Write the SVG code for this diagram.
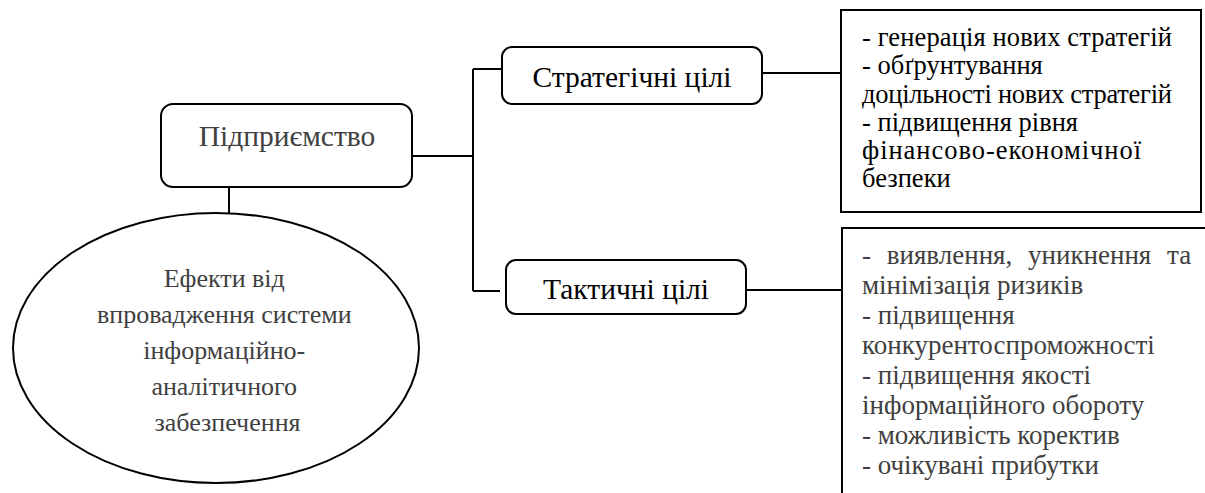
<svg xmlns="http://www.w3.org/2000/svg" width="1205" height="493" viewBox="0 0 1205 493">
<style>
.box{fill:#fff;stroke:#000;stroke-width:2}
.ln{fill:none;stroke:#000;stroke-width:2}
text{font-family:'Liberation Serif','Times New Roman',serif;font-size:26px}
.node{font-size:29.5px}
.top{font-size:26.5px}
.bot{font-size:27px}
.g{fill:#404040}
.k{fill:#000}
</style>
<rect width="1205" height="493" fill="#fff"/>
<g id="connectors">
<line class="ln" x1="412" y1="156" x2="473" y2="156"/>
<line class="ln" x1="473" y1="69" x2="473" y2="291"/>
<line class="ln" x1="473" y1="69" x2="502" y2="69"/>
<line class="ln" x1="473" y1="291" x2="500" y2="291"/>
<line class="ln" x1="762" y1="73" x2="841" y2="73"/>
<line class="ln" x1="746" y1="290" x2="842" y2="290"/>
<line class="ln" x1="229" y1="186" x2="229" y2="213"/>
</g>
<g id="enterprise">
<rect class="box" x="161" y="104" width="251" height="83" rx="12"/>
<text class="node g" x="287" y="146" text-anchor="middle">Підприємство</text>
</g>
<g id="strategic">
<rect class="box" x="502" y="47" width="260" height="57" rx="10"/>
<text class="node k" x="632" y="87" text-anchor="middle">Стратегічні цілі</text>
</g>
<g id="tactical">
<rect class="box" x="506" y="260" width="240" height="54" rx="10"/>
<text class="node k" x="626" y="299" text-anchor="middle">Тактичні цілі</text>
</g>
<g id="strategic-list">
<rect class="box" x="841" y="10" width="360" height="202"/>
<text class="top k">
<tspan x="862" y="46" textLength="310" lengthAdjust="spacing">- генерація нових стратегій</tspan>
<tspan x="862" y="74">- обґрунтування</tspan>
<tspan x="862" y="102.5" textLength="310" lengthAdjust="spacing">доцільності нових стратегій</tspan>
<tspan x="862" y="131">- підвищення рівня</tspan>
<tspan x="862" y="159" textLength="279" lengthAdjust="spacing">фінансово-економічної</tspan>
<tspan x="862" y="187">безпеки</tspan>
</text>
</g>
<g id="tactical-list">
<rect class="box" x="842" y="228" width="365" height="280"/>
<text class="bot g">
<tspan x="862" y="264" word-spacing="9">- виявлення, уникнення та</tspan>
<tspan x="862" y="294">мінімізація ризиків</tspan>
<tspan x="862" y="324">- підвищення</tspan>
<tspan x="862" y="354">конкурентоспроможності</tspan>
<tspan x="862" y="384">- підвищення якості</tspan>
<tspan x="862" y="414">інформаційного обороту</tspan>
<tspan x="862" y="444">- можливість коректив</tspan>
<tspan x="862" y="474">- очікувані прибутки</tspan>
</text>
</g>
<g id="effects">
<ellipse class="box" cx="216" cy="348" rx="203" ry="135"/>
<text class="g" text-anchor="middle">
<tspan x="227.5" y="287">Ефекти від</tspan>
<tspan x="227.5" y="323">впровадження системи</tspan>
<tspan x="227.5" y="359">інформаційно-</tspan>
<tspan x="227.5" y="395">аналітичного</tspan>
<tspan x="227.5" y="431">забезпечення</tspan>
</text>
</g>
</svg>
